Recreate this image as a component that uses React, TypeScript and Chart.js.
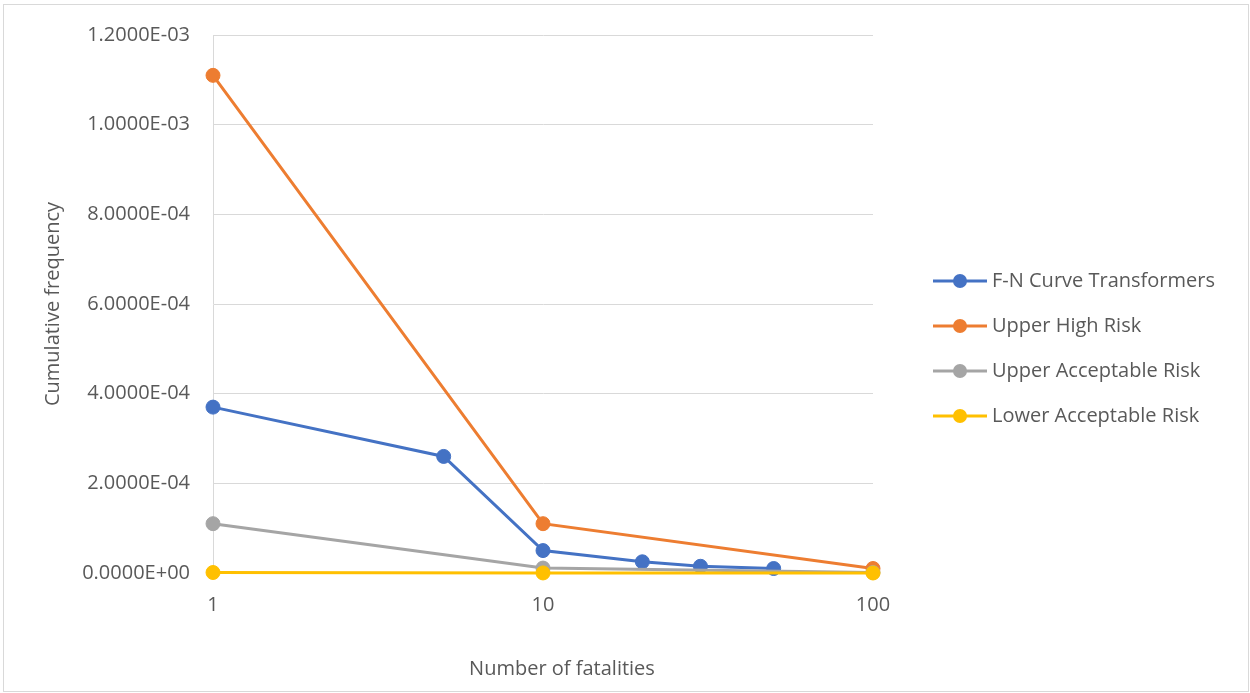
import { useEffect, useRef } from "react";
import { Chart, registerables } from "chart.js";

Chart.register(...registerables);

// Series data: number of fatalities (N) against cumulative frequency (F)
const SERIES_NAMES = [
  "F-N Curve Transformers",
  "Upper High Risk",
  "Upper Acceptable Risk",
  "Lower Acceptable Risk",
];
const SERIES_COLORS = ["#4472C4", "#ED7D31", "#A5A5A5", "#FFC000"];

const FN_FATALITIES = [1, 5, 10, 20, 30, 50];
const FN_FREQUENCY = [3.7e-4, 2.6e-4, 5.0e-5, 2.5e-5, 1.5e-5, 1.0e-5];

const CRITERIA_FATALITIES = [1, 10, 100];
const UPPER_HIGH_RISK = [1.11e-3, 1.1e-4, 1.0e-5];
const UPPER_ACCEPTABLE_RISK = [1.1e-4, 1.1e-5, 1.1e-6];
const LOWER_ACCEPTABLE_RISK = [1.1e-6, 1.1e-7, 1.1e-8];

const X_TICKS = [1, 10, 100];
const Y_MIN = 0;
const Y_MAX = 1.2e-3;
const Y_STEP = 2e-4;

const X_TITLE = "Number of fatalities";
const Y_TITLE = "Cumulative frequency";

const FONT = "'Open Sans', 'Noto Sans', sans-serif";
const TEXT_COLOR = "#595959";
const GRID_COLOR = "#D9D9D9";

// Excel-style scientific notation, e.g. 1.2000E-03
function sciLabel(v: number): string {
  if (Math.abs(v) < 1e-15) return "0.0000E+00";
  const [mant, exp] = v.toExponential(4).split("e");
  const n = parseInt(exp, 10);
  return `${mant}E${n < 0 ? "-" : "+"}${String(Math.abs(n)).padStart(2, "0")}`;
}

function toPoints(xs: number[], ys: number[]) {
  return xs.map((x, i) => ({ x, y: ys[i] }));
}

// Legend on the right (line + marker + label) and the horizontal axis title
const sideLegend = {
  id: "sideLegend",
  afterDraw(chart: any) {
    const { ctx, chartArea } = chart;
    ctx.save();
    ctx.font = `20px ${FONT}`;
    ctx.textBaseline = "middle";
    ctx.textAlign = "left";
    const lineStart = chartArea.right + 60;
    chart.data.datasets.forEach((ds: any, i: number) => {
      const y = 281 + i * 45;
      ctx.strokeStyle = ds.borderColor;
      ctx.lineWidth = 3;
      ctx.beginPath();
      ctx.moveTo(lineStart, y);
      ctx.lineTo(lineStart + 54, y);
      ctx.stroke();
      ctx.fillStyle = ds.borderColor;
      ctx.beginPath();
      ctx.arc(lineStart + 27, y, 7, 0, Math.PI * 2);
      ctx.fill();
      ctx.fillStyle = TEXT_COLOR;
      ctx.fillText(ds.label, lineStart + 59, y);
    });
    ctx.textAlign = "center";
    ctx.fillStyle = TEXT_COLOR;
    ctx.fillText(X_TITLE, (chartArea.left + chartArea.right) / 2 + 19, 669);
    ctx.restore();
  },
};

function FNChart() {
  const canvasRef = useRef<HTMLCanvasElement | null>(null);

  useEffect(() => {
    const canvas = canvasRef.current;
    if (!canvas) return;

    const seriesData = [
      toPoints(FN_FATALITIES, FN_FREQUENCY),
      toPoints(CRITERIA_FATALITIES, UPPER_HIGH_RISK),
      toPoints(CRITERIA_FATALITIES, UPPER_ACCEPTABLE_RISK),
      toPoints(CRITERIA_FATALITIES, LOWER_ACCEPTABLE_RISK),
    ];

    const chart = new Chart(canvas, {
      type: "line",
      data: {
        datasets: seriesData.map((data, i) => ({
          label: SERIES_NAMES[i],
          data,
          borderColor: SERIES_COLORS[i],
          backgroundColor: SERIES_COLORS[i],
          pointBackgroundColor: SERIES_COLORS[i],
          pointBorderColor: SERIES_COLORS[i],
          borderWidth: 3,
          pointRadius: 7,
          pointBorderWidth: 1,
          pointStyle: "circle",
          tension: 0,
          fill: false,
          clip: false as any,
          // later series are painted on top
          order: seriesData.length - 1 - i,
        })),
      },
      options: {
        animation: false,
        responsive: false,
        events: [],
        layout: { padding: { left: 0, top: 33, right: 377, bottom: 0 } },
        plugins: {
          legend: { display: false },
          tooltip: { enabled: false },
          title: { display: false },
        },
        scales: {
          x: {
            type: "logarithmic",
            min: 1,
            max: 100,
            afterBuildTicks: (scale: any) => {
              scale.ticks = X_TICKS.map((v) => ({ value: v }));
            },
            afterFit: (scale: any) => {
              scale.height = 120;
            },
            grid: { display: true, color: "rgba(0,0,0,0)", drawTicks: false },
            border: { display: true, color: GRID_COLOR, width: 1 },
            ticks: {
              padding: 20,
              autoSkip: false,
              maxRotation: 0,
              color: TEXT_COLOR,
              font: { family: FONT, size: 20 },
              callback: (v: any) => String(v),
            },
          },
          y: {
            type: "linear",
            min: Y_MIN,
            max: Y_MAX,
            afterFit: (scale: any) => {
              scale.width = 213;
            },
            grid: { color: GRID_COLOR, lineWidth: 1, drawTicks: false },
            border: { display: true, color: GRID_COLOR, width: 1 },
            ticks: {
              stepSize: Y_STEP,
              padding: 23,
              color: TEXT_COLOR,
              font: { family: FONT, size: 20 },
              callback: (v: any) => sciLabel(Number(v)),
            },
            title: {
              display: true,
              text: Y_TITLE,
              color: TEXT_COLOR,
              font: { family: FONT, size: 20 },
              padding: { top: 41, bottom: 0 },
            },
          },
        },
      },
      plugins: [sideLegend],
    });

    return () => chart.destroy();
  }, []);

  return (
    <canvas
      ref={canvasRef}
      width={1250}
      height={693}
      style={{ position: "fixed", left: 0, top: 0, width: 1250, height: 693 }}
    />
  );
}

export default function App() {
  return (
    <div>
      <FNChart />
      <div
        style={{
          position: "fixed",
          left: 3,
          top: 4,
          width: 1244,
          height: 686,
          border: `1px solid ${GRID_COLOR}`,
          pointerEvents: "none",
        }}
      />
    </div>
  );
}
